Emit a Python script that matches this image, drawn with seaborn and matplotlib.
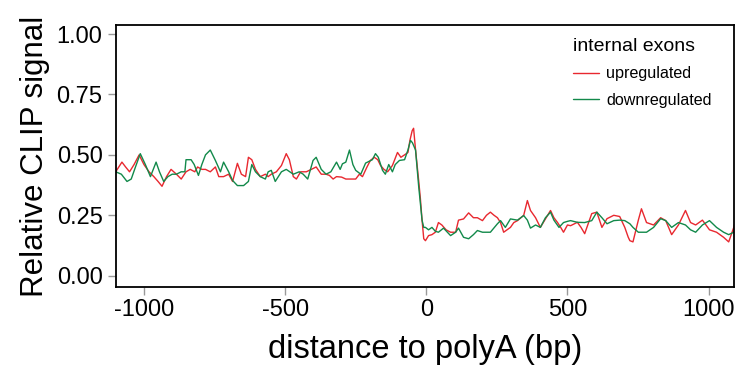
import numpy as np
import pandas as pd
import matplotlib
matplotlib.use("Agg")
import matplotlib.pyplot as plt
import seaborn as sns

# ---- data ----
up_x = [-1100, -1078, -1065, -1051, -1035, -1017, -1000, -982, -965, -950, -936, -920, -904, -885,
        -868, -851, -836, -820, -810, -795, -782, -765, -747, -735, -718, -700, -686, -669, -655,
        -640, -630, -618, -605, -588, -570, -560, -549, -531, -513, -496, -485, -471, -460, -445,
        -425, -407, -390, -372, -355, -343, -330, -318, -300, -285, -270, -250, -237, -226, -210,
        -198, -184, -172, -162, -150, -137, -120, -102, -90, -77, -65, -58, -50, -45, -38, -27,
        -21, -15, -9, -3, 8, 20, 32, 43, 55, 70, 86, 104, 114, 132, 150, 167, 181, 199, 213, 227,
        240, 252, 263, 274, 286, 298, 310, 323, 335, 345, 358, 369, 387, 404, 422, 440, 452, 465,
        476, 486, 500, 511, 535, 548, 561, 575, 586, 604, 622, 640, 664, 685, 703, 715, 721, 732,
        751, 762, 780, 805, 830, 848, 869, 893, 918, 936, 954, 978, 1003, 1028, 1053, 1071, 1089,
        1095]
up_y = [0.43, 0.47, 0.45, 0.43, 0.46, 0.50, 0.46, 0.43, 0.41, 0.39, 0.37, 0.41, 0.44, 0.42,
        0.40, 0.43, 0.44, 0.43, 0.45, 0.44, 0.44, 0.43, 0.45, 0.41, 0.41, 0.42, 0.39, 0.465, 0.42,
        0.41, 0.49, 0.48, 0.44, 0.41, 0.42, 0.41, 0.42, 0.43, 0.456, 0.505, 0.48, 0.41, 0.40, 0.43,
        0.43, 0.44, 0.45, 0.42, 0.42, 0.415, 0.40, 0.41, 0.408, 0.40, 0.40, 0.40, 0.42, 0.41, 0.45,
        0.477, 0.49, 0.48, 0.456, 0.44, 0.43, 0.456, 0.51, 0.49, 0.50, 0.51, 0.56, 0.60, 0.61, 0.52, 0.394,
        0.32, 0.23, 0.153, 0.145, 0.166, 0.17, 0.18, 0.22, 0.21, 0.19, 0.18, 0.18, 0.23, 0.235, 0.26, 0.24, 0.24, 0.228, 0.25, 0.263,
        0.25, 0.24, 0.22, 0.18, 0.19, 0.20, 0.22, 0.228, 0.24, 0.25, 0.311, 0.27, 0.24, 0.20, 0.235, 0.27, 0.24, 0.22,
        0.20, 0.18, 0.21, 0.207, 0.221, 0.20, 0.174, 0.22, 0.257, 0.263, 0.20, 0.236, 0.25, 0.245, 0.20, 0.16, 0.145, 0.14,
        0.23, 0.277, 0.22, 0.21, 0.24, 0.228, 0.17, 0.21, 0.27, 0.22, 0.21, 0.23, 0.19, 0.18, 0.159, 0.14, 0.20,
        0.228]

down_x = [-1100, -1080, -1060, -1045, -1030, -1013, -995, -977, -957, -945, -930, -915, -900, -885,
          -868, -855, -851, -833, -822, -807, -795, -782, -765, -747, -729, -718, -700, -686, -669,
          -647, -630, -618, -605, -588, -570, -560, -549, -535, -513, -496, -471, -450, -436, -420,
          -401, -390, -372, -355, -338, -318, -305, -297, -285, -272, -260, -250, -232, -215, -191,
          -180, -170, -155, -145, -133, -120, -110, -95, -77, -65, -56, -49, -38, -27, -21, -15, -9,
          -3, 8, 20, 32, 43, 61, 75, 86, 104, 114, 132, 150, 167, 181, 199, 227, 252, 263, 280, 298,
          323, 345, 358, 369, 387, 404, 422, 440, 452, 470, 486, 500, 511, 535, 561, 586, 604, 622,
          640, 664, 685, 703, 721, 732, 751, 762, 780, 805, 830, 848, 869, 893, 918, 936, 954, 978,
          1003, 1028, 1053, 1071, 1089, 1095]
down_y = [0.43, 0.42, 0.39, 0.40, 0.45, 0.505, 0.46, 0.41, 0.47, 0.43, 0.39, 0.41, 0.42, 0.42,
          0.43, 0.43, 0.48, 0.48, 0.46, 0.415, 0.46, 0.50, 0.52, 0.477, 0.43, 0.47, 0.43, 0.394, 0.373,
          0.373, 0.39, 0.46, 0.43, 0.41, 0.40, 0.43, 0.436, 0.39, 0.43, 0.44, 0.42, 0.43, 0.42, 0.40,
          0.477, 0.49, 0.44, 0.42, 0.43, 0.47, 0.44, 0.463, 0.47, 0.52, 0.46, 0.436, 0.42, 0.466, 0.48,
          0.505, 0.49, 0.436, 0.42, 0.46, 0.43, 0.46, 0.477, 0.48, 0.52, 0.56, 0.55, 0.52, 0.37, 0.30, 0.23, 0.20,
          0.20, 0.19, 0.20, 0.184, 0.18, 0.197, 0.18, 0.166, 0.18, 0.197, 0.159, 0.153, 0.17, 0.187, 0.18, 0.18, 0.215, 0.228, 0.20, 0.235,
          0.23, 0.249, 0.23, 0.197, 0.21, 0.20, 0.24, 0.263, 0.23, 0.20, 0.22, 0.225, 0.228, 0.221, 0.22, 0.228, 0.263, 0.24,
          0.215, 0.228, 0.23, 0.228, 0.215, 0.20, 0.18, 0.18, 0.18, 0.20, 0.236, 0.228, 0.20, 0.22, 0.21, 0.19, 0.18, 0.21,
          0.228, 0.20, 0.18, 0.17, 0.18, 0.20]

series_names = ["upregulated", "downregulated"]
series_colors = ["#E8282F", "#12894A"]
x_ticks = [-1000, -500, 0, 500, 1000]
y_ticks = [0.00, 0.25, 0.50, 0.75, 1.00]

df = pd.concat([
    pd.DataFrame({"x": up_x, "y": up_y, "group": series_names[0]}),
    pd.DataFrame({"x": down_x, "y": down_y, "group": series_names[1]}),
], ignore_index=True)

sns.set_style("white")
plt.rcParams["font.family"] = ["Liberation Sans", "DejaVu Sans"]
plt.rcParams["text.color"] = "black"
plt.rcParams["axes.labelcolor"] = "black"

fig = plt.figure(figsize=(7.37, 3.74), dpi=100)
ax = fig.add_axes([0.157, 0.233, 0.839, 0.700])

sns.lineplot(data=df, x="x", y="y", hue="group", hue_order=series_names,
             palette=series_colors, linewidth=1.0, ax=ax, estimator=None, sort=True)

ax.set_xlim(-1100, 1090)
ax.set_ylim(-0.046, 1.037)
ax.set_xticks(x_ticks)
ax.set_xticklabels([str(v) for v in x_ticks])
ax.set_yticks(y_ticks)
ax.set_yticklabels([f"{v:.2f}" for v in y_ticks])
ax.tick_params(axis="both", which="major", length=5.5, width=1, color="#999999",
               labelsize=17, labelcolor="black", direction="out",
               bottom=True, left=True)
ax.tick_params(axis="y", pad=4)
ax.tick_params(axis="x", pad=3)
for s in ax.spines.values():
    s.set_color("black")
    s.set_linewidth(1.3)

ax.set_xlabel("distance to polyA (bp)", fontsize=23.5, labelpad=9.5, color="black")
ax.set_ylabel("Relative CLIP signal", fontsize=22.5, labelpad=5, color="black")

leg = ax.legend(title="internal exons", loc="upper left", bbox_to_anchor=(0.729, 0.975),
                frameon=False, fontsize=11.6, title_fontsize=14, handlelength=1.6,
                handletextpad=0.45, labelspacing=0.7, borderaxespad=0)
leg._legend_box.align = "left"
leg.get_title().set_color("black")
for t in leg.get_texts():
    t.set_color("black")
for line in leg.get_lines():
    line.set_linewidth(1.0)

fig.savefig("out.png", dpi=100)
